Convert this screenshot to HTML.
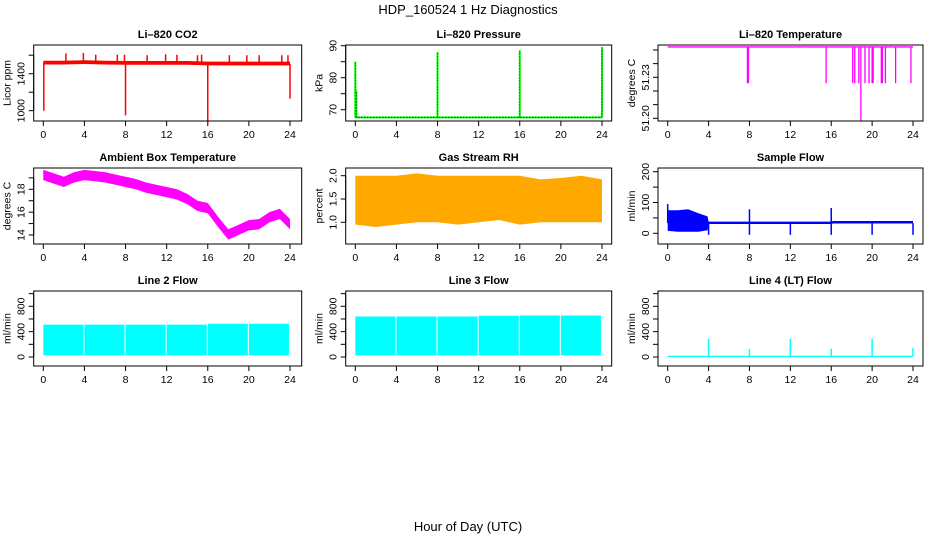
<!DOCTYPE html>
<html><head><meta charset="utf-8"><style>
html,body{margin:0;padding:0;background:#fff;}
svg{display:block;font-family:"Liberation Sans",sans-serif;}
.t{font-size:11px;font-weight:bold;text-anchor:middle;}
.tk{font-size:10.5px;text-anchor:middle;}
</style></head><body>
<svg id="c" width="936" height="540" viewBox="0 0 936 540">
<text x="468" y="14" font-size="13" text-anchor="middle">HDP_160524  1 Hz Diagnostics</text>
<text x="468" y="531" font-size="13" text-anchor="middle">Hour of Day (UTC)</text>
</svg>
<script>
// ---- data ----
const xTicks=[0,4,8,12,16,20,24];
// CO2
const co2Hours=[0,2,4,6,8,10,12,14,16,18,20,22,24];
const co2Base=[1515,1515,1520,1515,1512,1512,1512,1512,1505,1505,1505,1505,1505];
const co2SpikeHours=[2.2,3.9,5.1,7.2,7.9,10.1,11.9,13,15,15.4,18.1,19.8,21,23.2,23.8,0.05,8,16,24];
const co2SpikeVals=[1620,1625,1605,1605,1605,1600,1610,1605,1600,1605,1600,1600,1600,1600,1600,1000,950,860,1130];
// pressure
const presBase=67.6;
const presSpikeHours=[0,0.1,8,16,24];
const presSpikeVals=[85,76,88,88.5,89.5];
// Li-820 temperature
const tempBase=51.2522;
const tempDropHours=[7.8,7.9,15.5,18.1,18.3,18.7,18.9,19.3,19.7,20.0,20.1,20.9,21.0,21.3,22.3,23.8];
const tempDropVals=[51.2257,51.2257,51.2257,51.2257,51.2257,51.2257,51.198,51.2257,51.2257,51.2257,51.2257,51.2257,51.2257,51.2257,51.2257,51.2257];
// ambient
const ambHours=[0,1,2,3,4,5,6,7,8,9,10,11,12,13,14,15,16,17,18,19,20,21,22,23,24];
const ambVals=[19.3,19.0,18.7,19.1,19.3,19.2,19.1,18.9,18.7,18.5,18.2,18.0,17.8,17.6,17.2,16.6,16.4,15.2,14.1,14.5,14.9,15.0,15.6,15.9,15.0];
// RH
const rhHours=[0,2,4,6,8,10,12,14,16,18,20,22,24];
const rhHigh=[2.0,2.0,2.0,2.05,2.0,2.0,2.0,2.0,2.0,1.92,1.95,2.0,1.92];
const rhLow=[0.95,0.9,0.95,1.0,1.0,0.95,1.0,1.05,0.95,1.0,1.0,1.0,1.0];
// sample flow
const sfHours=[0,1,2,3,3.9,4,8,12,16,16.2,20,24];
const sfHigh=[75,75,78,65,55,38,38,38,38,40,40,40];
const sfLow=[8,5,5,5,10,30,30,30,30,32,32,32];
const sfSpikeHours=[0,8,16,4,8,12,16,20,24];
const sfSpikeVals=[95,78,82,-5,-5,-5,-5,-5,-5];
// line flows
const blockStarts=[0,4,8,12,16,20];
const blockEnds=[3.9,7.9,11.9,15.9,19.9,23.9];
const l2Tops=[510,510,510,510,525,525];
const l3Tops=[640,640,640,650,655,655];
const l4SpikeHours=[4,8,12,16,20,24];
const l4SpikeVals=[290,130,290,130,290,140];

const svg=document.getElementById('c');
const NS='http://www.w3.org/2000/svg';
function mk(tag,at,parent){const e=document.createElementNS(NS,tag);for(const k in at)e.setAttribute(k,at[k]);(parent||svg).appendChild(e);return e;}

const cols=[{l:33.7,r:301.7,x0:43.3,x24:290},{l:345.7,r:611.7,x0:355.3,x24:602},{l:658,r:923,x0:667.7,x24:913}];
const rows=[{t:45,b:121},{t:168,b:244},{t:291,b:366}];

function panel(name,ci,ri,title,ylab,yv1,yp1,yv2,yp2,yticks,ylabels){
  const c=cols[ci],r=rows[ri];
  const g=mk('g',{});
  
  
  const X=h=>c.x0+(c.x24-c.x0)*h/24;
  const Y=v=>yp1+(v-yv1)*(yp2-yp1)/(yv2-yv1);
  const tt=mk('text',{x:(c.l+c.r)/2,y:r.t-7,class:'t'},g);tt.textContent=title;
  
  
  const yl=mk('text',{x:0,y:0,class:'tk',transform:`translate(${c.l-23},${(r.t+r.b)/2}) rotate(-90)`},g);yl.textContent=ylab;
  
  
  const ax=mk('g',{stroke:'#000','stroke-width':1,fill:'none'},g);
  mk('line',{x1:X(0),x2:X(24),y1:r.b,y2:r.b},ax);
  xTicks.forEach(h=>{mk('line',{x1:X(h),x2:X(h),y1:r.b,y2:r.b+5},ax);
    const t=mk('text',{x:X(h),y:r.b+17,class:'tk',stroke:'none',fill:'#000'},g);t.textContent=h;
    
    });
  mk('line',{x1:c.l,x2:c.l,y1:Y(yticks[0]),y2:Y(yticks[yticks.length-1])},ax);
  yticks.forEach(v=>{mk('line',{x1:c.l-5,x2:c.l,y1:Y(v),y2:Y(v)},ax);});
  ylabels.forEach(v=>{const t=mk('text',{x:0,y:0,class:'tk',transform:`translate(${c.l-9},${Y(v)}) rotate(-90)`},g);t.textContent=v;
    
    });
  const plot=mk('g',{},g);
  
  
  const box=mk('rect',{x:c.l,y:r.t,width:c.r-c.l,height:r.b-r.t,fill:'none',stroke:'#000'},g);
  
  
  return {X,Y,plot};
}
function band(p,hs,lo,hi,fill){
  let d='M'+hs.map((h,i)=>p.X(h)+','+p.Y(hi[i])).join('L');
  for(let i=hs.length-1;i>=0;i--)d+='L'+p.X(hs[i])+','+p.Y(lo[i]);
  const e=mk('path',{d:d+'Z',fill:fill,stroke:'none'},p.plot);
  
  
}
function vline(p,h,v1,v2,col,w){const e=mk('line',{x1:p.X(h),x2:p.X(h),y1:p.Y(v1),y2:p.Y(v2),stroke:col,'stroke-width':w||1.5},p.plot);
  
  }

// CO2
let p=panel('co2',0,0,'Li\u2013820 CO2','Licor ppm',1000,110.7,1400,73.7,[1000,1200,1400,1600],[1000,1400]);
band(p,co2Hours,co2Base.map(v=>v-15),co2Base.map(v=>v+25),'#ff0000');
co2SpikeHours.forEach((h,i)=>vline(p,h,co2Base[Math.min(Math.round(h/2),co2Base.length-1)],co2SpikeVals[i],'#ff0000',1.5));
// Pressure
p=panel('pressure',1,0,'Li\u2013820 Pressure','kPa',70,109.7,90,45.7,[70,75,80,85,90],[70,80,90]);
{const e=mk('line',{x1:p.X(0),x2:p.X(24),y1:p.Y(presBase),y2:p.Y(presBase),stroke:'#00ff00','stroke-width':2},p.plot);
 
 const e2=mk('line',{x1:p.X(0),x2:p.X(24),y1:p.Y(presBase),y2:p.Y(presBase),stroke:'#000','stroke-width':1,'stroke-dasharray':'1,2'},p.plot);
 }
presSpikeHours.forEach((h,i)=>{vline(p,h,presBase,presSpikeVals[i],'#00ff00',2);
  const e=mk('line',{x1:p.X(h),x2:p.X(h),y1:p.Y(presBase),y2:p.Y(presSpikeVals[i]),stroke:'#000','stroke-width':0.8,'stroke-dasharray':'1,2'},p.plot);
  });
// Temperature
p=panel('li820-temp',2,0,'Li\u2013820 Temperature','degrees C',51.20,118.3,51.23,77.3,[51.20,51.21,51.22,51.23,51.24,51.25],['51.20','51.23']);
{const e=mk('line',{x1:p.X(0),x2:p.X(24),y1:p.Y(tempBase),y2:p.Y(tempBase),stroke:'#ff00ff','stroke-width':1.3},p.plot);
 }
tempDropHours.forEach((h,i)=>vline(p,h,tempBase,tempDropVals[i],'#ff00ff',1.3));
// Ambient
p=panel('ambient-temp',0,1,'Ambient Box Temperature','degrees C',14,235,18,189.3,[14,15,16,17,18,19],[14,16,18]);
band(p,ambHours,ambVals.map(v=>v-0.5),ambVals.map(v=>v+0.4),'#ff00ff');
// RH
p=panel('rh',1,1,'Gas Stream RH','percent',1,222.3,2,175.7,[1.0,1.5,2.0],['1.0','1.5','2.0']);
band(p,rhHours,rhLow,rhHigh,'#ffa800');
// Sample flow
p=panel('sample-flow',2,1,'Sample Flow','ml/min',0,233.3,200,171.7,[0,50,100,150,200],[0,100,200]);
band(p,sfHours,sfLow,sfHigh,'#0000ff');
sfSpikeHours.forEach((h,i)=>vline(p,h,33,sfSpikeVals[i],'#0000ff',1.5));
// Line flows
const flowTicks=[0,200,400,600,800,1000],flowLabels=[0,400,800];
p=panel('line2-flow',0,2,'Line 2 Flow','ml/min',0,357,800,306.3,flowTicks,flowLabels);
blockStarts.forEach((s,i)=>band(p,[s,blockEnds[i]],[25,25],[l2Tops[i],l2Tops[i]],'#00ffff'));
p=panel('line3-flow',1,2,'Line 3 Flow','ml/min',0,357,800,306.3,flowTicks,flowLabels);
blockStarts.forEach((s,i)=>band(p,[s,blockEnds[i]],[25,25],[l3Tops[i],l3Tops[i]],'#00ffff'));
p=panel('line4-flow',2,2,'Line 4 (LT) Flow','ml/min',0,357,800,306.3,flowTicks,flowLabels);
band(p,[0,24],[0,0],[20,20],'#00ffff');
l4SpikeHours.forEach((h,i)=>vline(p,h,10,l4SpikeVals[i],'#00ffff',1.5));
</script>
</body></html>
